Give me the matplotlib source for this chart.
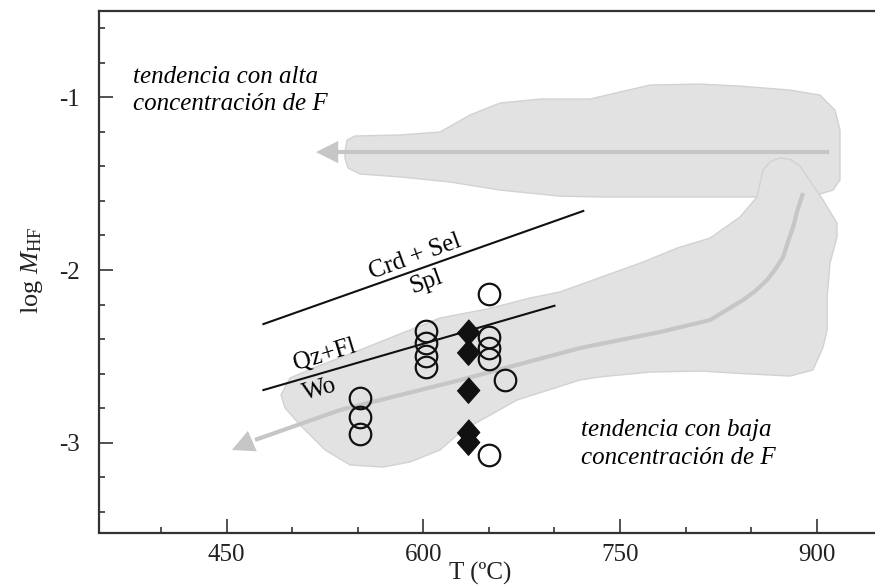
import numpy as np
import matplotlib
matplotlib.use('Agg')
import matplotlib.pyplot as plt
from matplotlib.patches import Polygon, FancyArrowPatch

plt.rcParams['font.family'] = ['Liberation Serif', 'DejaVu Serif']
plt.rcParams['mathtext.fontset'] = 'custom'
plt.rcParams['mathtext.rm'] = 'Liberation Serif'
plt.rcParams['mathtext.it'] = 'Liberation Serif:italic'
plt.rcParams['axes.unicode_minus'] = False

# measured samples (T in ºC, log M_HF)
circ_T      =   [552, 552, 552, 602, 602, 602, 602, 650, 650, 650, 650, 662, 650]
circ_logM   =   [-2.743, -2.849, -2.950, -2.353, -2.423, -2.498, -2.562,
                 -2.141, -2.386, -2.450, -2.517, -2.637, -3.071]
diam_T      =   [634, 634, 634, 634, 634]
diam_logM   =   [-2.361, -2.473, -2.695, -2.940, -2.994]

# reaction lines
crd_T       =   [478, 722]
crd_logM    =   [-2.313, -1.658]
qz_T        =   [478, 700]
qz_logM     =   [-2.695, -2.207]

# shaded fields
high_T      =   [540.2, 541.8, 547.9, 582.2, 612.7, 635.6, 658.5, 689.0, 727.1, 750.0,
                 772.9, 811.0, 841.5, 879.7, 902.6, 914.0, 917.8, 917.8, 912.5, 902.6,
                 856.8, 811.0, 734.7, 704.2, 658.5, 620.3, 582.2, 551.7, 542.5, 540.2]
high_logM   =   [-1.317, -1.247, -1.224, -1.218, -1.201, -1.102, -1.033, -1.010, -1.010, -0.969,
                 -0.929, -0.923, -0.935, -0.958, -0.987, -1.074, -1.189, -1.479, -1.537, -1.560,
                 -1.577, -1.577, -1.577, -1.572, -1.537, -1.490, -1.461, -1.444, -1.409, -1.351]
low_T       =   [491.4, 498.3, 518.1, 551.7, 582.2, 612.7, 648.6, 681.4, 704.2, 729.4,
                 767.6, 793.5, 818.7, 841.5, 854.5, 859.1, 865.0, 872.0, 880.0, 887.3,
                 904.9, 915.5, 915.5, 910.2, 908.0, 908.0, 904.9, 897.2, 879.7, 849.2,
                 811.0, 772.9, 734.7, 719.5, 671.4, 647.0, 630.2, 612.7, 589.8, 569.2,
                 544.1, 525.0, 505.9, 494.5]
low_logM    =   [-2.724, -2.625, -2.562, -2.463, -2.370, -2.278, -2.226, -2.162, -2.127, -2.058,
                 -1.954, -1.873, -1.815, -1.693, -1.577, -1.421, -1.370, -1.351, -1.360, -1.398,
                 -1.595, -1.728, -1.809, -1.959, -2.156, -2.347, -2.446, -2.579, -2.614, -2.602,
                 -2.585, -2.591, -2.619, -2.637, -2.753, -2.857, -2.926, -3.042, -3.112, -3.141,
                 -3.129, -3.042, -2.897, -2.799]

# trend arrows
htrend_T    =   [909.4, 530.0]
htrend_logM =   [-1.317, -1.317]
htip        =   (518.1, -1.317)
ltrend_T    =   [889.6, 885.5, 882.0, 878.0, 874.4, 868.5, 862.1, 853.5, 843.8, 818.7,
                 780.5, 719.5, 628.0, 536.4, 471.6]
ltrend_logM =   [-1.554, -1.650, -1.751, -1.840, -1.925, -1.995, -2.058, -2.120, -2.174, -2.290,
                 -2.359, -2.452, -2.637, -2.811, -2.984]
ltip        =   (454.0, -3.042)

fill_col    =   '#e2e2e2'
edge_col    =   '#d2d2d2'
trend_col   =   '#c6c6c6'
axis_col    =   '#333333'

fig = plt.figure(figsize=(8.75, 5.85), dpi=100)
ax = fig.add_axes([99/875, 1 - 532.5/585, 776/875, 521.5/585])
ax.set_xlim(352.6, 944.5)
ax.set_ylim(-3.52, -0.5)

ax.add_patch(Polygon(np.column_stack([high_T, high_logM]), closed=True,
                     fc=fill_col, ec=edge_col, lw=1, joinstyle='round', zorder=1))
ax.add_patch(Polygon(np.column_stack([low_T, low_logM]), closed=True,
                     fc=fill_col, ec=edge_col, lw=1, joinstyle='round', zorder=1))

ax.plot(htrend_T, htrend_logM, color=trend_col, lw=3, solid_capstyle='butt', zorder=2)
ax.plot(ltrend_T, ltrend_logM, color=trend_col, lw=3, solid_capstyle='butt',
        solid_joinstyle='round', zorder=2)
for tail, tip in [((htrend_T[-1], htrend_logM[-1]), htip),
                  ((ltrend_T[-1], ltrend_logM[-1]), ltip)]:
    ax.add_patch(FancyArrowPatch(tail, tip, arrowstyle='-|>,head_length=0.8,head_width=0.4',
                                 mutation_scale=20, color=trend_col, lw=0,
                                 shrinkA=0, shrinkB=0, zorder=2))

ax.plot(crd_T, crd_logM, color='#111111', lw=1.5, zorder=3)
ax.plot(qz_T, qz_logM, color='#111111', lw=1.5, zorder=3)

ax.text(593.6, -1.923, 'Crd + Sel', fontsize=18, rotation=20, rotation_mode='anchor',
        ha='center', va='center', zorder=4)
ax.text(602.6, -2.068, 'Spl', fontsize=18, rotation=20, rotation_mode='anchor',
        ha='center', va='center', zorder=4)
ax.text(525.0, -2.492, 'Qz+Fl', fontsize=18, rotation=17, rotation_mode='anchor',
        ha='center', va='center', zorder=4)
ax.text(521.2, -2.691, 'Wo', fontsize=18, rotation=16, rotation_mode='anchor',
        ha='center', va='center', zorder=4)

ax.plot(circ_T, circ_logM, 'o', ms=15.5, mfc='none', mec='#111111', mew=1.6, zorder=5)
diamond = [(0, 1), (0.88, 0), (0, -1), (-0.88, 0)]
ax.plot(diam_T, diam_logM, ls='none', marker=diamond, ms=18.5, mfc='#111111',
        mec='#111111', mew=0.8, zorder=5)

ax.text(378.5, -0.883, 'tendencia con alta', fontsize=18, style='italic', va='center', zorder=4)
ax.text(378.5, -1.039, 'concentración de F', fontsize=18, style='italic', va='center', zorder=4)
ax.text(720.5, -2.926, 'tendencia con baja', fontsize=18, style='italic', va='center', zorder=4)
ax.text(720.5, -3.088, 'concentración de F', fontsize=18, style='italic', va='center', zorder=4)

ax.set_xticks([450, 600, 750, 900])
ax.set_xticks([400, 500, 550, 650, 700, 800, 850], minor=True)
ax.set_yticks([-3, -2, -1])
ax.set_yticks([-3.4, -3.2, -2.8, -2.6, -2.4, -2.2, -1.8, -1.6, -1.4, -1.2, -0.8, -0.6], minor=True)
ax.tick_params(which='both', direction='in', top=False, right=False, colors=axis_col,
               labelcolor='#222222', labelsize=18, width=1.2)
ax.tick_params(which='major', length=10)
ax.tick_params(which='minor', length=4.5)
ax.tick_params(axis='x', which='major', pad=8)
ax.tick_params(axis='y', which='major', pad=13.5)

for side in ['left', 'bottom', 'top']:
    ax.spines[side].set_color(axis_col)
    ax.spines[side].set_linewidth(1.6)
ax.spines['right'].set_visible(False)

fig.text(480/875, 1 - 573/585, 'T (ºC)', fontsize=18, ha='center', va='center', color='#222222')
fig.text(32/875, 1 - 270/585, r'log $M_{\mathrm{HF}}$', fontsize=19, rotation=90,
         ha='center', va='center', color='#222222')

fig.savefig('out.png', dpi=100)
